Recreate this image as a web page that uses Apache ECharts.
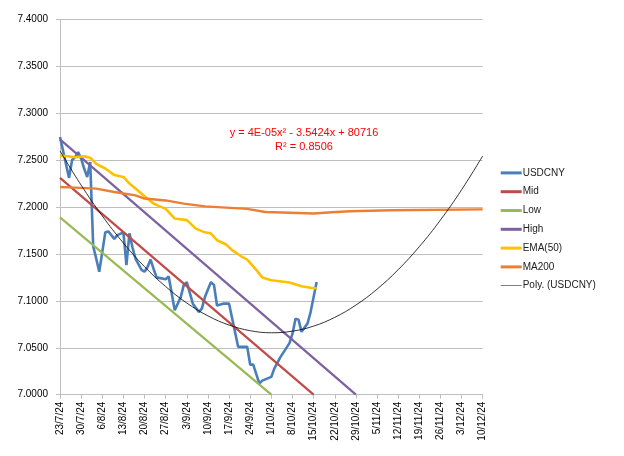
<!DOCTYPE html>
<html><head><meta charset="utf-8">
<script src="https://cdn.jsdelivr.net/npm/echarts@6/dist/echarts.min.js"></script>
<style>html,body{margin:0;padding:0;background:#fff}#c{width:624px;height:456px}</style>
</head><body><div id="c"></div>
<script>
// ---- data ----
const xTickLabels = ['23/7/24','30/7/24','6/8/24','13/8/24','20/8/24','27/8/24','3/9/24','10/9/24','17/9/24','24/9/24','1/10/24','8/10/24','15/10/24','22/10/24','29/10/24','5/11/24','12/11/24','19/11/24','26/11/24','3/12/24','10/12/24'];

const usdDates = ['2024-07-23','2024-07-26','2024-07-27','2024-07-28','2024-07-29','2024-07-30','2024-07-31','2024-08-01','2024-08-02','2024-08-03','2024-08-04','2024-08-05','2024-08-07','2024-08-08','2024-08-10','2024-08-11','2024-08-13','2024-08-14','2024-08-15','2024-08-16','2024-08-17','2024-08-19','2024-08-20','2024-08-21','2024-08-22','2024-08-23','2024-08-24','2024-08-27','2024-08-28','2024-08-30','2024-09-01','2024-09-02','2024-09-03','2024-09-05','2024-09-07','2024-09-08','2024-09-09','2024-09-11','2024-09-12','2024-09-13','2024-09-15','2024-09-17','2024-09-20','2024-09-23','2024-09-24','2024-09-25','2024-09-27','2024-09-28','2024-10-01','2024-10-02','2024-10-04','2024-10-07','2024-10-08','2024-10-09','2024-10-10','2024-10-11','2024-10-13','2024-10-14','2024-10-16'];
const usdValues = [7.2745,7.2310,7.2500,7.2530,7.2585,7.2515,7.2410,7.2320,7.2480,7.1580,7.1450,7.1310,7.1730,7.1740,7.1660,7.1700,7.1730,7.1380,7.1720,7.1570,7.1450,7.1330,7.1310,7.1360,7.1440,7.1340,7.1250,7.1230,7.1260,7.0900,7.1040,7.1170,7.1200,7.0970,7.0880,7.0920,7.1040,7.1200,7.1170,7.0950,7.0970,7.0970,7.0510,7.0510,7.0320,7.0320,7.0120,7.0150,7.0190,7.0280,7.0400,7.0550,7.0650,7.0810,7.0800,7.0670,7.0760,7.0880,7.1200];

const midDates = ['2024-07-23','2024-10-15'];
const midValues = [7.231, 7.000];
const lowDates = ['2024-07-23','2024-10-01'];
const lowValues = [7.189, 7.000];
const highDates = ['2024-07-23','2024-10-29'];
const highValues = [7.272, 7.000];

const emaDates = ['2024-07-23','2024-07-25','2024-07-28','2024-07-31','2024-08-02','2024-08-04','2024-08-07','2024-08-10','2024-08-13','2024-08-15','2024-08-17','2024-08-20','2024-08-23','2024-08-27','2024-08-30','2024-09-03','2024-09-06','2024-09-09','2024-09-11','2024-09-13','2024-09-16','2024-09-18','2024-09-21','2024-09-23','2024-09-26','2024-09-28','2024-10-01','2024-10-07','2024-10-11','2024-10-14','2024-10-16'];
const emaValues = [7.2545,7.2543,7.2530,7.2540,7.2525,7.2460,7.2410,7.2340,7.2320,7.2250,7.2196,7.2114,7.2036,7.1980,7.1877,7.1860,7.1770,7.1730,7.1717,7.1646,7.1600,7.1540,7.1475,7.1440,7.1330,7.1250,7.1220,7.1196,7.1156,7.1140,7.1135];

const maDates = ['2024-07-23','2024-07-28','2024-08-04','2024-08-10','2024-08-17','2024-08-20','2024-08-27','2024-09-02','2024-09-09','2024-09-23','2024-09-29','2024-10-10','2024-10-15','2024-10-21','2024-10-27','2024-11-10','2024-12-10'];
const maValues = [7.2213,7.2206,7.2196,7.2160,7.2124,7.2090,7.2070,7.2036,7.2007,7.1980,7.1947,7.1936,7.1930,7.1944,7.1954,7.1965,7.1975];

const polyDates = ['2024-07-23','2024-07-30','2024-08-06','2024-08-13','2024-08-20','2024-08-27','2024-09-03','2024-09-10','2024-09-17','2024-09-24','2024-10-01','2024-10-08','2024-10-15','2024-10-22','2024-10-29','2024-11-05','2024-11-12','2024-11-19','2024-11-26','2024-12-03','2024-12-10'];
const polyValues = [7.2598,7.2233,7.1905,7.1616,7.1364,7.1152,7.0977,7.0840,7.0742,7.0682,7.0660,7.0677,7.0731,7.0824,7.0955,7.1124,7.1332,7.1577,7.1861,7.2183,7.2544];

const trendEquation = 'y = 4E-05x\u00B2 - 3.5424x + 80716';
const trendR2 = 'R\u00B2 = 0.8506';

// ---- helpers ----
const START = Date.UTC(2024, 6, 23);
function dayOf(s) { const p = s.split('-').map(Number); return Math.round((Date.UTC(p[0], p[1]-1, p[2]) - START) / 86400000); }
function pairs(dates, vals) { return dates.map((d, i) => [dayOf(d), vals[i]]); }

const FONT = '"Liberation Sans", Arial, sans-serif';
const chart = echarts.init(document.getElementById('c'), null, {renderer: 'canvas'});

function lineSeries(name, dates, vals, color, width, extra) {
  return Object.assign({
    name, type: 'line', data: pairs(dates, vals), symbol: 'none', showSymbol: false,
    lineStyle: {color, width}, itemStyle: {color}, emphasis: {disabled: true}
  }, extra || {});
}

const thickIcon = 'rect';
const thinIcon = 'path://M0,0L0.01,0L0,0.01Z M0,1.1H21V1.9H0Z M0,3L0.01,3L0,3.01Z';

chart.setOption({
  animation: false,
  textStyle: {fontFamily: FONT},
  grid: {left: 60, right: 141.3, top: 19.3, bottom: 61.3, containLabel: false},
  xAxis: {
    type: 'value', min: 0, max: 140, interval: 7,
    axisLine: {show: true, lineStyle: {color: '#BFBFBF', width: 1}},
    axisTick: {show: true, length: 4, inside: false, lineStyle: {color: '#BFBFBF'}},
    splitLine: {show: false},
    axisLabel: {rotate: 90, fontSize: 10, color: '#000', fontFamily: FONT, margin: 7,
      formatter: v => xTickLabels[Math.round(v / 7)] || ''}
  },
  yAxis: {
    type: 'value', min: 7, max: 7.4, interval: 0.05,
    axisLine: {show: true, lineStyle: {color: '#BFBFBF', width: 1}},
    axisTick: {show: true, length: 4, lineStyle: {color: '#BFBFBF'}},
    splitLine: {show: true, lineStyle: {color: '#BFBFBF', width: 1}},
    axisLabel: {fontSize: 10, color: '#000', fontFamily: FONT, margin: 12,
      formatter: v => v.toFixed(4)}
  },
  legend: {
    orient: 'vertical', left: 500.7, top: 167.9, padding: 0,
    itemWidth: 21, itemHeight: 3, itemGap: 8.8, icon: thickIcon,
    textStyle: {fontSize: 10, color: '#222', fontFamily: FONT, padding: [0, 0, 0, -4]},
    data: [
      {name: 'USDCNY'}, {name: 'Mid'}, {name: 'Low'}, {name: 'High'},
      {name: 'EMA(50)'}, {name: 'MA200'},
      {name: 'Poly. (USDCNY)', icon: thinIcon, itemStyle: {color: '#555'}}
    ]
  },
  series: [
    lineSeries('USDCNY', usdDates, usdValues, '#4A7EBB', 2.6),
    lineSeries('Mid', midDates, midValues, '#BE4B48', 2.2),
    lineSeries('Low', lowDates, lowValues, '#98B954', 2.2),
    lineSeries('High', highDates, highValues, '#7D60A0', 2.2),
    lineSeries('EMA(50)', emaDates, emaValues, '#FFC000', 2.6),
    lineSeries('MA200', maDates, maValues, '#EB7F34', 2.4),
    lineSeries('Poly. (USDCNY)', polyDates, polyValues, '#000000', 0.8, {smooth: 0.4})
  ],
  graphic: [
    {type: 'text', style: {text: trendEquation, fill: '#FF0000', font: '11px ' + FONT, textAlign: 'center', textVerticalAlign: 'middle'}, position: [304, 132.5]},
    {type: 'text', style: {text: trendR2, fill: '#FF0000', font: '11px ' + FONT, textAlign: 'center', textVerticalAlign: 'middle'}, position: [304, 147]}
  ]
});
</script></body></html>
